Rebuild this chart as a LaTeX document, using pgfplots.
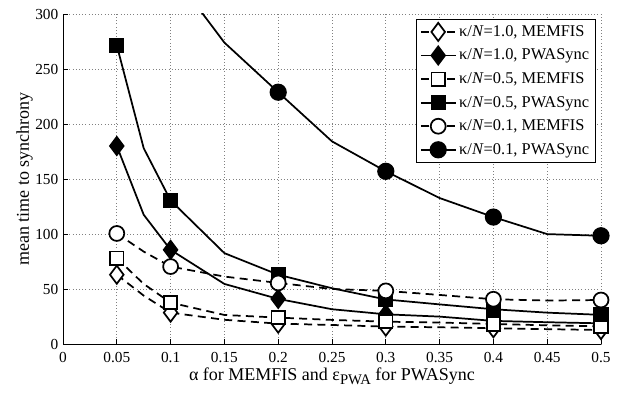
\documentclass[border=0pt]{standalone}
\usepackage{fontspec}
\setmainfont{Liberation Serif}
\usepackage{pgfplots}
\pgfplotsset{compat=1.18}
\begin{document}
\begin{tikzpicture}
\begin{axis}[
  scale only axis,
  width=403.5pt, height=247.5pt,
  xmin=0, xmax=0.5, ymin=0, ymax=300,
  xtick={0,0.05,...,0.51}, ytick={0,50,...,300},
  axis x line=bottom, axis y line=left,
  axis line style={-, line width=0.7pt},
  tick align=inside, major tick length=3.5pt,
  tick style={black, line width=0.6pt},
  grid=major, grid style={dotted, gray, line width=0.6pt},
  font=\fontsize{13.5}{15}\selectfont,
  /pgf/number format/assume math mode=true,
  tick label style={font=\fontsize{11.5}{12.5}\selectfont},
  xticklabel style={/pgf/number format/fixed, /pgf/number format/precision=2, yshift=-2.5pt},
  yticklabel style={/pgf/number format/fixed},
  scaled x ticks=false,
  xlabel={α for MEMFIS and ε\raisebox{-0.5ex}{\fontsize{11}{12}\selectfont PWA} for PWASync},
  ylabel={mean time to synchrony},
  xlabel style={yshift=3pt},
  ylabel style={yshift=-5pt},
  legend style={at={(0.99,0.985)}, anchor=north east, draw=black, line width=0.8pt,
    font=\fontsize{12.3}{13.5}\selectfont, row sep=4pt, inner sep=2.5pt,
    /tikz/every even column/.append style={column sep=0pt}},
  legend cell align=left,
  legend image code/.code={\draw[mark indices={2}] plot coordinates {(0cm,0cm) (0.46cm,0cm) (0.92cm,0cm)};},
  every axis plot/.append style={black, line width=1.3pt},
  mfis/.style={dash pattern=on 6pt off 4pt, mark options={solid, fill=white}},
  pwa/.style={solid, mark options={solid, fill=black}},
]
% kappa/N = 1.0, MEMFIS
\addplot[mfis, mark=diamond*, mark size=6.8pt, mark indices={1,3,5,7,9,11}] coordinates {
(0.05,63) (0.075,44) (0.1,28.5) (0.15,22) (0.2,18.5) (0.25,17.3) (0.3,15.8) (0.35,15.2) (0.4,14.3) (0.45,13.5) (0.5,12.7)};
\addlegendentry{κ/\textit{N}=1.0, MEMFIS}
% kappa/N = 1.0, PWASync
\addplot[pwa, mark=diamond*, mark size=6.8pt, mark indices={1,3,5,7,9,11}] coordinates {
(0.05,180) (0.075,117.5) (0.1,85.6) (0.15,54.6) (0.2,41) (0.25,31.6) (0.3,27) (0.35,24.9) (0.4,21) (0.45,19.8) (0.5,18.8)};
\addlegendentry{κ/\textit{N}=1.0, PWASync}
% kappa/N = 0.5, MEMFIS
\addplot[mfis, mark=square*, mark size=5pt, mark indices={1,3,5,7,9,11}] coordinates {
(0.05,78) (0.075,54.6) (0.1,37.6) (0.15,26.4) (0.2,24) (0.25,21.9) (0.3,20.3) (0.35,19.5) (0.4,18.2) (0.45,17) (0.5,16)};
\addlegendentry{κ/\textit{N}=0.5, MEMFIS}
% kappa/N = 0.5, PWASync
\addplot[pwa, mark=square*, mark size=5pt, mark indices={1,3,5,7,9,11}] coordinates {
(0.05,271.5) (0.075,178) (0.1,130.5) (0.15,82.6) (0.2,63) (0.25,50.7) (0.3,40.5) (0.35,36) (0.4,31.6) (0.45,28.5) (0.5,26.5)};
\addlegendentry{κ/\textit{N}=0.5, PWASync}
% kappa/N = 0.1, MEMFIS
\addplot[mfis, mark=*, mark size=5.6pt, mark indices={1,3,5,7,9,11}] coordinates {
(0.05,100.5) (0.075,84) (0.1,70.4) (0.15,61.3) (0.2,55.5) (0.25,50) (0.3,48.3) (0.35,44.6) (0.4,40.7) (0.45,39.5) (0.5,40)};
\addlegendentry{κ/\textit{N}=0.1, MEMFIS}
% kappa/N = 0.1, PWASync
\addplot[pwa, mark=*, mark size=5.8pt, mark indices={2,4,6,8}] coordinates {
(0.1,339) (0.15,274) (0.2,228.9) (0.25,184.2) (0.3,157) (0.35,132.7) (0.4,115.4) (0.45,99.9) (0.5,98.4)};
\addlegendentry{κ/\textit{N}=0.1, PWASync}
\end{axis}
\path (current axis.south west) ++(-47.25pt,-36pt);
\path (current axis.north east) ++(18.75pt,10.5pt);
\end{tikzpicture}
\end{document}
